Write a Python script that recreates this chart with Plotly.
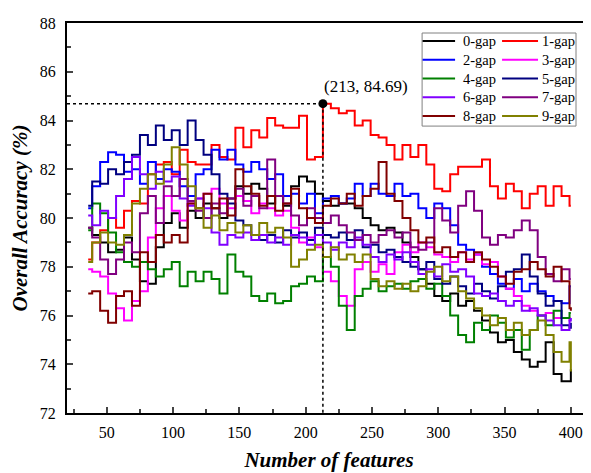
import plotly.graph_objects as go

features = [36, 39, 45, 51, 57, 63, 69, 75, 81, 87, 93, 99, 105, 111, 117, 123, 129, 135, 141, 147,
            153, 159, 165, 171, 177, 183, 189, 195, 201, 207, 213, 219, 225, 231, 237, 243, 249, 255,
            261, 267, 273, 279, 285, 291, 297, 303, 309, 315, 321, 327, 333, 339, 345, 351, 357, 363,
            369, 375, 381, 387, 393, 399, 400]

gap0 = [79.6, 79.3, 79.0, 78.6, 78.7, 79.2, 78.3, 77.4, 77.3, 78.8, 79.8, 80.2, 79.6, 80.3, 80.0, 80.6,
        80.4, 80.0, 80.8, 81.3, 81.0, 81.4, 81.2, 80.6, 80.9, 80.5, 81.3, 81.7, 81.5, 81.0, 80.7, 80.5,
        80.6, 80.6, 80.4, 80.0, 79.7, 79.5, 79.6, 79.4, 79.0, 78.4, 77.9, 77.3, 76.8, 76.6, 76.9, 76.4,
        76.6, 76.2, 75.8, 75.3, 74.9, 75.0, 74.5, 74.2, 73.9, 74.1, 74.9, 73.6, 73.3, 73.3, 73.8]
gap1 = [78.3, 79.0, 79.5, 80.0, 79.6, 80.3, 80.7, 80.6, 81.8, 82.2, 82.3, 81.8, 82.8, 82.3, 82.2, 82.2,
        83.0, 82.5, 82.4, 83.7, 82.9, 83.6, 83.3, 84.1, 83.8, 83.7, 83.7, 84.2, 82.4, 82.5, 84.69, 84.5,
        84.3, 84.4, 83.8, 84.0, 83.4, 83.3, 83.0, 82.4, 83.0, 82.5, 83.0, 82.2, 81.2, 81.1, 81.8, 82.1,
        82.1, 82.1, 82.4, 81.3, 80.8, 81.4, 81.1, 80.4, 81.0, 81.3, 80.5, 81.3, 80.9, 80.5, 80.5]
gap2 = [80.4, 81.3, 82.3, 82.7, 82.6, 81.9, 82.0, 81.4, 82.3, 81.6, 82.0, 81.9, 81.3, 80.9, 81.8, 82.0,
        82.8, 82.4, 82.8, 82.2, 81.9, 82.3, 82.0, 81.6, 81.8, 80.9, 81.0, 80.6, 81.0, 80.2, 80.8, 80.9,
        80.6, 80.8, 81.4, 80.9, 81.4, 81.0, 80.9, 81.4, 80.9, 81.0, 80.4, 80.0, 80.6, 80.4, 79.7, 78.9,
        78.7, 78.5, 78.0, 77.7, 77.3, 77.1, 77.5, 77.0, 77.3, 77.0, 76.8, 76.6, 76.5, 77.2, 77.2]
gap3 = [77.9, 77.8, 77.6, 76.9, 76.3, 75.8, 76.6, 77.0, 79.2, 80.4, 80.9, 80.3, 79.9, 80.6, 80.8, 81.0,
        81.2, 80.6, 80.4, 80.9, 80.7, 80.2, 80.6, 80.4, 80.1, 80.3, 79.6, 79.0, 79.2, 78.8, 77.8, 77.4,
        76.8, 76.4, 77.9, 78.2, 77.8, 78.1, 77.7, 78.6, 78.9, 78.6, 79.0, 78.8, 78.5, 78.4, 78.2, 78.6,
        78.3, 78.5, 78.1, 78.2, 77.6, 77.1, 76.8, 76.4, 76.2, 76.0, 76.1, 75.9, 75.9, 75.8, 75.8]
gap4 = [79.5, 80.6, 80.2, 79.4, 78.6, 78.2, 78.0, 78.2, 77.9, 77.6, 77.9, 78.2, 77.2, 77.8, 77.4, 77.8,
        77.5, 76.9, 78.5, 77.8, 77.6, 76.8, 76.6, 76.9, 76.5, 76.6, 77.2, 77.3, 77.6, 77.4, 78.4, 78.0,
        76.4, 75.4, 76.8, 77.1, 77.4, 77.0, 77.2, 77.3, 77.1, 77.4, 77.5, 77.1, 77.3, 76.8, 76.0, 75.2,
        74.9, 75.7, 75.4, 76.0, 75.7, 75.1, 75.4, 74.6, 75.4, 76.0, 75.6, 76.2, 75.9, 76.1, 76.1]
gap5 = [80.5, 81.5, 81.4, 82.0, 81.8, 82.3, 82.6, 83.4, 83.0, 83.8, 83.2, 83.6, 83.0, 84.0, 83.2, 82.6,
        81.8, 81.0, 80.6, 79.9, 79.7, 79.3, 79.1, 79.3, 79.0, 79.5, 79.2, 79.4, 79.1, 79.6, 79.3, 79.2,
        79.4, 79.1, 79.5, 78.8, 78.9, 78.6, 78.7, 78.4, 78.2, 78.0, 77.9, 78.2, 77.5, 77.3, 77.6, 77.2,
        76.9, 77.3, 77.0, 76.7, 77.2, 77.8, 77.9, 78.5, 77.6, 76.9, 76.4, 76.6, 75.6, 75.5, 75.7]
gap6 = [80.1, 79.7, 80.3, 80.0, 80.9, 81.6, 82.5, 81.8, 81.2, 81.9, 81.5, 81.7, 80.8, 80.5, 80.8, 80.4,
        79.4, 78.9, 79.3, 79.2, 79.4, 79.1, 79.3, 79.0, 79.2, 78.9, 79.3, 79.2, 78.9, 79.3, 79.0, 78.7,
        79.0, 78.8, 79.2, 78.9, 78.4, 78.2, 78.5, 78.3, 78.6, 78.2, 77.7, 77.9, 77.6, 78.1, 77.8, 77.9,
        77.6, 76.9, 76.8, 76.9, 76.6, 76.4, 76.6, 76.2, 76.3, 76.0, 75.8, 75.6, 75.4, 75.8, 75.9]
gap7 = [79.6, 79.2, 78.3, 77.7, 78.3, 79.0, 78.6, 80.2, 80.9, 79.8, 81.3, 80.9, 81.6, 80.7, 80.3, 80.0,
        80.6, 80.2, 80.8, 81.2, 80.5, 80.9, 80.4, 82.4, 80.9, 80.6, 80.1, 79.7, 80.4, 80.0, 79.8, 80.1,
        79.7, 79.4, 79.1, 79.3, 79.0, 79.3, 79.5, 79.2, 79.4, 78.8, 78.7, 79.0, 80.4, 79.9, 79.4, 80.5,
        81.1, 80.3, 79.2, 78.9, 79.3, 79.2, 79.5, 79.9, 79.5, 78.4, 77.7, 77.4, 77.9, 77.5, 77.5]
gap8 = [76.9, 77.0, 76.2, 75.7, 76.8, 77.0, 76.4, 78.6, 78.2, 79.3, 79.0, 79.3, 79.0, 80.6, 80.4, 81.0,
        80.4, 80.8, 80.1, 82.0, 81.3, 81.0, 80.5, 80.9, 80.3, 80.6, 81.2, 80.4, 80.0, 79.8, 80.5, 80.8,
        80.6, 81.0, 80.5, 80.9, 81.2, 82.3, 81.0, 80.7, 80.0, 79.5, 79.0, 79.2, 78.6, 78.8, 78.4, 78.6,
        78.2, 78.6, 78.3, 78.0, 77.6, 77.3, 77.8, 77.9, 78.2, 77.9, 77.6, 78.0, 77.4, 76.3, 76.2]
gap9 = [78.2, 79.0, 79.4, 79.0, 78.9, 79.3, 80.6, 81.2, 81.8, 81.4, 82.2, 82.9, 82.2, 81.3, 80.4, 79.6,
        80.1, 79.5, 79.8, 79.4, 79.7, 79.3, 79.8, 79.4, 79.6, 79.2, 78.0, 78.3, 78.7, 78.9, 78.4, 78.8,
        78.3, 78.5, 78.2, 78.5, 77.5, 77.2, 77.4, 77.1, 77.3, 77.0, 77.2, 77.8, 78.0, 77.4, 77.6, 77.0,
        76.7, 76.3, 76.0, 75.6, 75.9, 75.4, 75.7, 75.2, 75.4, 75.8, 75.2, 74.5, 74.1, 74.9, 73.7]

series_names = ["0-gap", "1-gap", "2-gap", "3-gap", "4-gap", "5-gap", "6-gap", "7-gap", "8-gap", "9-gap"]
series_values = [gap0, gap1, gap2, gap3, gap4, gap5, gap6, gap7, gap8, gap9]
colors = ["#000000", "#FF0000", "#0000FF", "#FF00FF", "#008000",
          "#000080", "#8000FF", "#800080", "#800000", "#808000"]

best_x = 213
best_y = 84.69
best_label = "(213, 84.69)"

x_ticks = [50, 100, 150, 200, 250, 300, 350, 400]
y_ticks = [72, 74, 76, 78, 80, 82, 84, 86, 88]

FONT = "Liberation Serif"

# page has an 8px body margin; plot area (page px): left 66.7, right 591, top 23, bottom 412.7
PL, PR, PT, PB = 66.7, 591.0, 23.0, 412.7
def px(p):
    return (p - PL) / (PR - PL)
def py(q):
    return (PB - q) / (PB - PT)

fig = go.Figure()
for i, (name, vals) in enumerate(zip(series_names, series_values)):
    fig.add_trace(go.Scatter(
        x=features, y=vals, name=name, mode="lines",
        line=dict(color=colors[i], width=2, shape="hv"),
        showlegend=False,
    ))

# dotted guide lines to best point
fig.add_trace(go.Scatter(x=[20, best_x], y=[best_y, best_y], mode="lines",
                         line=dict(color="black", width=1.5, dash="dot"), showlegend=False))
fig.add_trace(go.Scatter(x=[best_x, best_x], y=[best_y, 72], mode="lines",
                         line=dict(color="black", width=1.5, dash="dot"), showlegend=False))
fig.add_trace(go.Scatter(x=[best_x], y=[best_y], mode="markers",
                         marker=dict(color="black", size=9), showlegend=False))
fig.add_annotation(x=best_x, y=best_y, text=best_label, showarrow=False,
                   xanchor="left", yanchor="bottom", xshift=-1, yshift=6,
                   font=dict(family=FONT, size=17, color="black"))

# legend (two columns, row-major) with frame
fig.add_shape(type="rect", xref="paper", yref="paper",
              x0=px(422), x1=px(576), y0=py(126), y1=py(33),
              line=dict(color="#808080", width=1), fillcolor="white", layer="above")
row_y = [41, 59.75, 78.5, 97.25, 116]
col_line = [(422.5, 455), (502, 538)]
col_text = [461, 540]
for i, name in enumerate(series_names):
    r, c = i // 2, i % 2
    fig.add_shape(type="line", xref="paper", yref="paper",
                  x0=px(col_line[c][0]), x1=px(col_line[c][1]), y0=py(row_y[r]), y1=py(row_y[r]),
                  line=dict(color=colors[i], width=2), layer="above")
    fig.add_annotation(xref="paper", yref="paper", x=px(col_text[c]), y=py(row_y[r]),
                       text=name, showarrow=False, xanchor="left", yanchor="middle",
                       font=dict(family=FONT, size=14.5, color="black"))

fig.update_layout(
    width=583, height=465,
    margin=dict(l=58.7, r=0, t=15, b=60.3, autoexpand=False),
    paper_bgcolor="white", plot_bgcolor="white",
    font=dict(family=FONT, color="black"),
    showlegend=False,
    xaxis=dict(range=[20, 415.2], tickvals=x_ticks, ticks="inside", ticklen=6, tickwidth=1.5,
               minor=dict(dtick=25, tick0=0, ticks="inside", ticklen=4, tickwidth=1.5),
               showline=True, linewidth=2, linecolor="black", mirror=True,
               showgrid=False, zeroline=False,
               tickfont=dict(family=FONT, size=16, color="black"), ticklabelstandoff=4,
               title=dict(text="<b><i>Number of features</i></b>",
                          font=dict(family=FONT, size=21, color="black"), standoff=12)),
    yaxis=dict(range=[72, 88], tickvals=y_ticks, ticks="inside", ticklen=6, tickwidth=1.5,
               minor=dict(dtick=1, tick0=0, ticks="inside", ticklen=4, tickwidth=1.5),
               showline=True, linewidth=2, linecolor="black", mirror=False,
               showgrid=False, zeroline=False,
               tickfont=dict(family=FONT, size=16, color="black"), ticklabelstandoff=6,
               title=dict(text="<b><i>Overall Accuracy (%)</i></b>",
                          font=dict(family=FONT, size=21, color="black"), standoff=10)),
)

fig.write_html("out.html")
